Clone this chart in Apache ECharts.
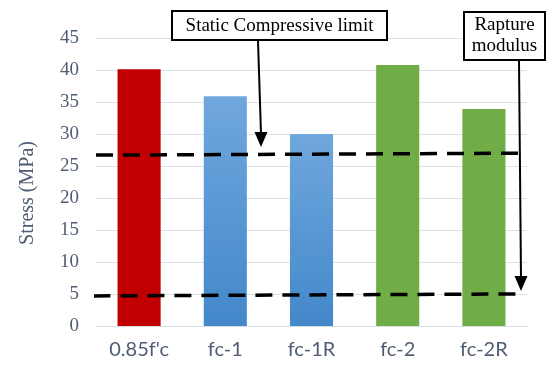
<!DOCTYPE html>
<html>
<head>
<meta charset="utf-8">
<script src="https://cdn.jsdelivr.net/npm/echarts@6/dist/echarts.min.js"></script>
<style>
  html, body { margin: 0; padding: 0; background: #fff; }
  #chart { width: 558px; height: 370px; }
</style>
</head>
<body>
<div id="chart"></div>
<script>
// Specimen groups and their measured stress (MPa)
const categories = ["0.85f'c", 'fc-1', 'fc-1R', 'fc-2', 'fc-2R'];
const stressValues = [40.1, 35.9, 30.0, 40.8, 33.9];
const yTicks = { min: 0, max: 45, interval: 5 };

// Reference limit lines, [x position along the category span, stress]
const compressiveLimit = [[0, 26.7], [4.92, 27.0]];
const ruptureModulus = [[-0.03, 4.7], [4.87, 5.0]];

const slate = '#4f5d73';
const serif = '"Liberation Serif", "Times New Roman", serif';

const blueGrad = new echarts.graphic.LinearGradient(0, 0, 0, 1, [
  { offset: 0, color: '#70a7dd' },
  { offset: 1, color: '#4388ca' }
]);
const barColors = ['#c00000', blueGrad, blueGrad, '#70ad47', '#70ad47'];

const chart = echarts.init(document.getElementById('chart'), null, { renderer: 'canvas' });

function arrow(x1, y1, x2, y2) {
  const hw = 6.5, hh = 15;
  return [
    { type: 'line', shape: { x1: x1, y1: y1, x2: x2, y2: y2 - hh + 2 },
      style: { stroke: '#000', lineWidth: 2 } },
    { type: 'polygon', shape: { points: [[x2 - hw, y2 - hh], [x2 + hw, y2 - hh], [x2, y2]] },
      style: { fill: '#000' } }
  ];
}

chart.setOption({
  animation: false,
  grid: { left: 96, right: 31, top: 38, bottom: 44 },
  xAxis: [
    {
      type: 'category',
      data: categories,
      axisLine: { lineStyle: { color: '#d9dee6', width: 1 } },
      axisTick: { show: false },
      axisLabel: { color: slate, fontFamily: 'Lato, "Noto Sans", sans-serif', fontSize: 20, margin: 14 }
    },
    {
      type: 'value', min: 0, max: 5, show: false
    }
  ],
  yAxis: {
    type: 'value',
    min: yTicks.min, max: yTicks.max, interval: yTicks.interval,
    name: 'Stress (MPa)',
    nameLocation: 'middle',
    nameGap: 58,
    nameTextStyle: { color: slate, fontFamily: serif, fontSize: 20, padding: [0, 22, 0, 0] },
    axisLine: { show: false },
    axisTick: { show: false },
    axisLabel: { color: slate, fontFamily: serif, fontSize: 19, margin: 17 },
    splitLine: { lineStyle: { color: '#dde2e9', width: 1 } }
  },
  series: [
    {
      type: 'bar',
      xAxisIndex: 0,
      barWidth: '50%',
      data: stressValues.map((v, i) => ({ value: v, itemStyle: { color: barColors[i] } }))
    },
    {
      type: 'line', xAxisIndex: 1, data: compressiveLimit,
      symbol: 'none', z: 5,
      lineStyle: { color: '#000', width: 3.5, type: [17, 10] }
    },
    {
      type: 'line', xAxisIndex: 1, data: ruptureModulus,
      symbol: 'none', z: 5,
      lineStyle: { color: '#000', width: 3.5, type: [17, 10] }
    }
  ],
  graphic: [
    { type: 'rect', shape: { x: 172, y: 11, width: 215, height: 29 },
      style: { fill: '#fff', stroke: '#000', lineWidth: 2 }, z: 10 },
    { type: 'text', x: 279.5, y: 26, z: 11,
      style: { text: 'Static Compressive limit', font: '19px ' + serif, fill: '#000',
               align: 'center', verticalAlign: 'middle' } },
    { type: 'rect', shape: { x: 464, y: 12, width: 81, height: 48 },
      style: { fill: '#fff', stroke: '#000', lineWidth: 2 }, z: 10 },
    { type: 'text', x: 504.5, y: 36, z: 11,
      style: { text: 'Rapture\nmodulus', font: '19px ' + serif, fill: '#000',
               align: 'center', verticalAlign: 'middle', lineHeight: 21 } },
    ...arrow(258, 41, 261, 147).map(o => Object.assign(o, { z: 10 })),
    ...arrow(519, 61, 521, 291).map(o => Object.assign(o, { z: 10 }))
  ]
});
</script>
</body>
</html>
